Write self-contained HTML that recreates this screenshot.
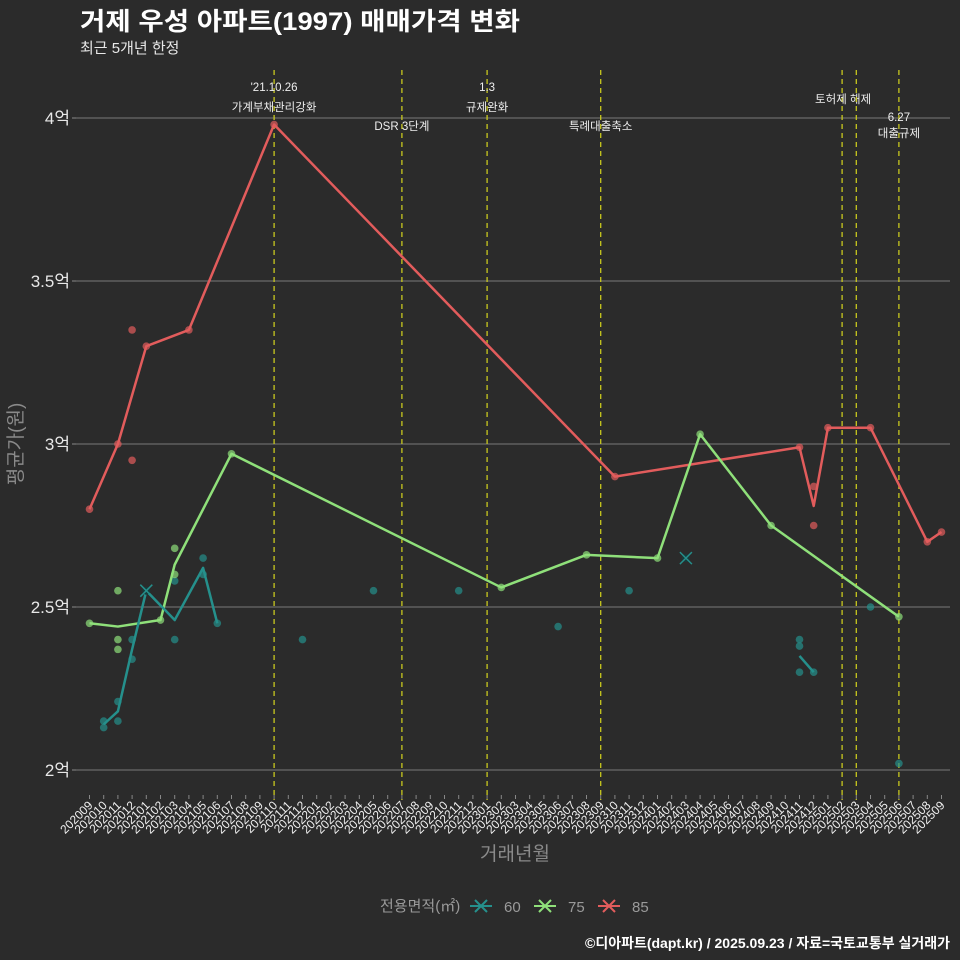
<!DOCTYPE html>
<html><head><meta charset="utf-8">
<style>
html,body{margin:0;padding:0;background:#2b2b2b;}
svg{display:block;font-family:"Liberation Sans","Noto Sans CJK KR",sans-serif;}
</style></head>
<body>
<svg id="chart" width="960" height="960" viewBox="0 0 960 960">
<rect width="960" height="960" fill="#2b2b2b"/>
<text x="80" y="30" fill="#ffffff" font-size="25" font-weight="bold" textLength="440" lengthAdjust="spacingAndGlyphs">거제 우성 아파트(1997) 매매가격 변화</text>
<text x="80" y="53" fill="#e8e8e8" font-size="15">최근 5개년 한정</text>
<g id="grid"></g>
<g id="events"></g>
<g id="series"></g>
<g id="xaxis"></g>
<g id="yaxis"></g>
<text transform="translate(22,444) rotate(-90)" text-anchor="middle" fill="#8a8a8a" font-size="19">평균가(원)</text>
<text x="515" y="860" text-anchor="middle" fill="#8a8a8a" font-size="19">거래년월</text>
<g>
<text x="380" y="911" fill="#9a9a9a" font-size="15">전용면적(㎡)</text>
<g id="legend"></g>
</g>
<text x="950" y="948" text-anchor="end" fill="#ffffff" font-size="14" font-weight="bold">©디아파트(dapt.kr) / 2025.09.23 / 자료=국토교통부 실거래가</text>
</svg>
<script>
// Categories: months 202009..202509
const months = [];
for (let y = 2020; y <= 2025; y++) for (let m = 1; m <= 12; m++) {
  const k = y * 100 + m; if (k >= 202009 && k <= 202509) months.push(String(k));
}
const yTicks = [2, 2.5, 3, 3.5, 4];
const yTickLabels = ["2억", "2.5억", "3억", "3.5억", "4억"];

// Monthly average lines (억)
const line60Months = ["202010","202011","202012","202101","202103","202105","202106"];
const line60Values = [2.14, 2.18, 2.37, 2.55, 2.46, 2.62, 2.45];
const line60bMonths = ["202411","202412"];
const line60bValues = [2.35, 2.30];
const line75Months = ["202009","202011","202102","202103","202107","202302","202308","202401","202404","202409","202506"];
const line75Values = [2.45, 2.44, 2.46, 2.63, 2.97, 2.56, 2.66, 2.65, 3.03, 2.75, 2.47];
const line85Months = ["202009","202011","202012","202101","202104","202110","202310","202411","202412","202501","202504","202508","202509"];
const line85Values = [2.80, 3.00, 3.15, 3.30, 3.35, 3.98, 2.90, 2.99, 2.81, 3.05, 3.05, 2.70, 2.73];

// Individual transactions
const pts60Months = ["202010","202010","202011","202011","202012","202012","202103","202103","202105","202105","202106","202112","202205","202211","202306","202311","202411","202411","202411","202412","202504","202506"];
const pts60Values = [2.15, 2.13, 2.15, 2.21, 2.40, 2.34, 2.40, 2.58, 2.65, 2.60, 2.45, 2.40, 2.55, 2.55, 2.44, 2.55, 2.40, 2.38, 2.30, 2.30, 2.50, 2.02];
const cross60Months = ["202101","202403"];
const cross60Values = [2.55, 2.65];
const pts75Months = ["202009","202011","202011","202011","202102","202103","202103","202107","202302","202308","202401","202404","202409","202506"];
const pts75Values = [2.45, 2.55, 2.40, 2.37, 2.46, 2.68, 2.60, 2.97, 2.56, 2.66, 2.65, 3.03, 2.75, 2.47];
const pts85Months = ["202009","202011","202012","202012","202101","202104","202110","202310","202411","202412","202412","202501","202504","202508","202509"];
const pts85Values = [2.80, 3.00, 3.35, 2.95, 3.30, 3.35, 3.98, 2.90, 2.99, 2.87, 2.75, 3.05, 3.05, 2.70, 2.73];

// Policy events
const eventMonths = ["202110","202207","202301","202309","202502","202503","202506"];
const eventLine1 = ["'21.10.26","","1.3","","","","6.27"];
const eventLine2 = ["가계부채관리강화","DSR 3단계","규제완화","특례대출축소","토허제 해제","","대출규제"];

const C60 = "#25908c", C75 = "#8fe07a", C85 = "#e25c5c";
const NS = "http://www.w3.org/2000/svg";
const X0 = 89.5, DX = 14.2, Y0 = 770, PY = 326;
const xs = m => X0 + months.indexOf(m) * DX;
const ys = v => Y0 - (v - 2) * PY;
function el(tag, attrs, parent) { const e = document.createElementNS(NS, tag); for (const k in attrs) e.setAttribute(k, attrs[k]); parent.appendChild(e); return e; }

const grid = document.getElementById('grid'), yaxis = document.getElementById('yaxis');
yTicks.forEach((t, i) => {
  const g = el('line', {x1: 76, x2: 950, y1: ys(t), y2: ys(t), stroke: '#6a6a6a', 'stroke-width': 1.2}, grid);
  
  
  const tk = el('line', {x1: 72, x2: 76, y1: ys(t), y2: ys(t), stroke: '#888'}, yaxis);
  
  
  const tx = el('text', {x: 70, y: ys(t) + 6, 'text-anchor': 'end', fill: '#e8e8e8', 'font-size': 17}, yaxis);
  tx.textContent = yTickLabels[i];
  
  
});

const xaxis = document.getElementById('xaxis');
months.forEach(m => {
  const x = xs(m);
  const tk = el('line', {x1: x, x2: x, y1: 795, y2: 799, stroke: '#888'}, xaxis);
  
  
  const tx = el('text', {x: 0, y: 0, 'text-anchor': 'end', fill: '#f0f0f0', 'font-size': 12, transform: `translate(${x + 4},${806}) rotate(-45)`}, xaxis);
  tx.textContent = m;
  
  
});

const ev = document.getElementById('events');
const evY1 = [91, 0, 91, 0, 0, 0, 121];
const evY2 = [111, 130, 111, 130, 103, 0, 137];
const evDx = [0, 0, 0, 0, 1, 0, 0];
eventMonths.forEach((m, i) => {
  const x = xs(m);
  const l = el('line', {x1: x, x2: x, y1: 70, y2: 800, stroke: '#c8c81e', 'stroke-width': 1.3, 'stroke-dasharray': '5,4'}, ev);
  
  
  if (eventLine1[i]) {
    const t = el('text', {x: x + evDx[i], y: evY1[i], 'text-anchor': 'middle', fill: '#eeeeee', 'font-size': 11.5}, ev);
    t.textContent = eventLine1[i];
    
    
  }
  if (eventLine2[i]) {
    const t2 = el('text', {x: x + evDx[i], y: evY2[i], 'text-anchor': 'middle', fill: '#eeeeee', 'font-size': 11.5}, ev);
    t2.textContent = eventLine2[i];
    
    
  }
});

const series = document.getElementById('series');
function drawPts(ms, vs, c, name) {
  ms.forEach((m, i) => {
    const p = el('circle', {cx: xs(m), cy: ys(vs[i]), r: 3.8, fill: c, opacity: 0.7}, series);
    
    
  });
}
function drawLine(ms, vs, c, name) {
  const p = el('polyline', {points: ms.map((m, i) => xs(m) + ',' + ys(vs[i])).join(' '), fill: 'none', stroke: c, 'stroke-width': 2.5, 'stroke-linejoin': 'round'}, series);
  
  
}
function drawCross(ms, vs, c, name) {
  ms.forEach((m, i) => {
    const x = xs(m), y = ys(vs[i]);
    const d = el('circle', {cx: x, cy: y, r: 4, fill: '#173a3a'}, series);
    
    
    const g = el('path', {d: `M${x-6},${y-6}L${x+6},${y+6}M${x-6},${y+6}L${x+6},${y-6}`, stroke: c, 'stroke-width': 1.5}, series);
    
    
  });
}
drawPts(pts60Months, pts60Values, C60, 'point-60');
drawPts(pts75Months, pts75Values, C75, 'point-75');
drawPts(pts85Months, pts85Values, C85, 'point-85');
drawLine(line85Months, line85Values, C85, 'line-85');
drawLine(line75Months, line75Values, C75, 'line-75');
drawLine(line60Months, line60Values, C60, 'line-60');
drawLine(line60bMonths, line60bValues, C60, 'line-60-late');
drawCross(cross60Months, cross60Values, C60, 'cross-60');

const lg = document.getElementById('legend');
const legLabels = ["60", "75", "85"], legColors = [C60, C75, C85], legX = [470, 534, 598];
legLabels.forEach((lab, i) => {
  const x = legX[i], y = 906;
  const k = el('path', {d: `M${x},${y}L${x+22},${y}M${x+5},${y-6}L${x+17},${y+6}M${x+5},${y+6}L${x+17},${y-6}`, stroke: legColors[i], 'stroke-width': 2}, lg);
  
  
  const t = el('text', {x: x + 34, y: y + 6, fill: '#9a9a9a', 'font-size': 15}, lg);
  t.textContent = lab;
  
  
});
</script>
</body></html>
